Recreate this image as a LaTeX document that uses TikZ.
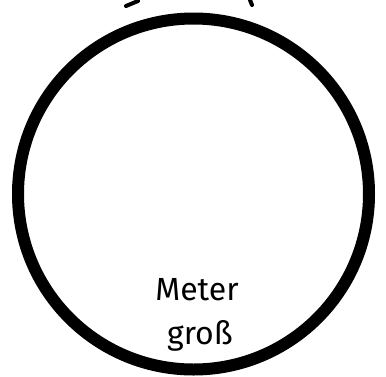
\documentclass[tikz,border=0pt]{standalone}
\usepackage{fontspec}
\setmainfont{Fira Sans}
\begin{document}
\begin{tikzpicture}[x=0.75pt,y=-0.75pt,
  ring/.style={draw=black,line width=9pt},
  label/.style={font=\fontsize{24}{28}\selectfont,inner sep=0pt,anchor=base},
  frag/.style={draw=black,line width=3pt,line cap=round}]
\useasboundingbox (0,0) rectangle (386,376);
\node[ring,circle,minimum size=351*0.75pt,inner sep=0pt] (c) at (193.5,194) {};
\node[label] (m) at (197,300) {Meter};
\node[label] (g) at (200,344) {groß};
\coordinate (f1a) at (126,6);
\coordinate (f1b) at (138,1);
\coordinate (f2a) at (250,0);
\coordinate (f2b) at (252,5);
\draw[frag] (f1a) -- (f1b);
\draw[frag] (f2a) -- (f2b);
\end{tikzpicture}
\end{document}
